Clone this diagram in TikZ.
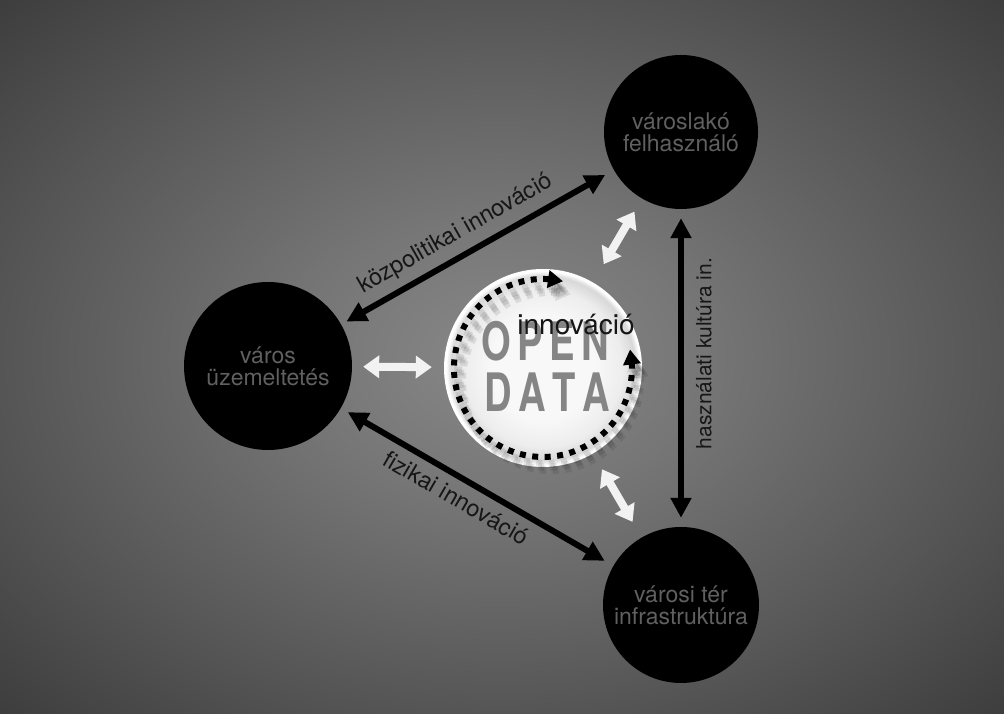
\documentclass[tikz,border=0pt]{standalone}
\usepackage{fontspec}
\setmainfont{TeX Gyre Heros}
\usetikzlibrary{arrows.meta,bending}
\definecolor{bgA}{HTML}{888888}
\definecolor{bgB}{HTML}{767676}
\definecolor{bgC}{HTML}{555555}
\definecolor{bgD}{HTML}{3C3C3C}
\definecolor{circtext}{HTML}{606060}
\definecolor{labeltext}{HTML}{161616}
\definecolor{odgray}{HTML}{858585}
\definecolor{whitearrow}{HTML}{F2F2F2}
\definecolor{odin}{HTML}{F8F8F8}
\definecolor{odmid}{HTML}{EDEDED}
\definecolor{odout}{HTML}{D8D8D8}
\pgfdeclareradialshading{vignette}{\pgfpoint{0bp}{0bp}}{color(0bp)=(bgA); color(10bp)=(bgB); color(25bp)=(bgC); color(36bp)=(bgD); color(50bp)=(bgD)}
\pgfdeclareradialshading{odshade}{\pgfpoint{0bp}{0bp}}{color(0bp)=(odin); color(13bp)=(odin); color(20bp)=(odmid); color(23.3bp)=(odout); color(24.5bp)=(white); color(50bp)=(white)}
\begin{document}
\begin{tikzpicture}[x=1pt,y=1pt,
  bignode/.style={circle, fill=black, text=circtext, align=center, font=\fontsize{23}{22}\selectfont, inner sep=0pt},
  blackarrow/.style={line width=6pt, draw=black, {Triangle[length=20pt,width=20pt]}-{Triangle[length=20pt,width=20pt]}},
  whitearr/.style={line width=8pt, draw=whitearrow, {Triangle[length=16pt,width=22pt]}-{Triangle[length=16pt,width=22pt]}},
  lab/.style={text=labeltext, font=\fontsize{23.5}{23.5}\selectfont, sloped, inner sep=0pt},
  ring/.style={line width=6pt, dash pattern=on 6pt off 6.5pt, {Triangle[length=15pt,width=17pt]}-{Triangle[length=15pt,width=17pt]}},
  ringshadow/.style={ring, draw=black, fill=none, opacity=0.09, line width=8pt},
  bigtext/.style={text=odgray, font=\fontsize{53}{53}\selectfont\bfseries, inner sep=0pt}
]
\useasboundingbox (0,0) rectangle (1004,714);
\shade[shading=vignette] (0,0) rectangle (1004,714);

% main nodes
\node[bignode, minimum size=168pt] (L) at (268,348) {város\\üzemeltetés};
\node[bignode, minimum size=154pt] (T) at (681,582) {városlakó\\felhasználó};
\node[bignode, minimum size=156pt] (B) at (681,109) {városi tér\\infrastruktúra};
\node[circle, minimum size=198pt, shade, shading=odshade, inner sep=0pt] (OD) at (543,346) {};

% black connectors
\draw[blackarrow, shorten <=6pt, shorten >=10pt] (L) -- node[lab, above=8pt, pos=0.46]{közpolitikai innováció} (T);
\draw[blackarrow, shorten <=8pt, shorten >=10pt] (L) -- node[lab, below=8pt, pos=0.46]{fizikai innováció} (B);
\draw[blackarrow, shorten <=9pt, shorten >=9pt] (B) -- node[lab, below=12pt, pos=0.545, font=\fontsize{21}{21}\selectfont]{használati kultúra in.} (T);

% white connectors
\draw[whitearr, shorten <=11pt, shorten >=12pt] (L) -- (OD);
\draw[whitearr, shorten <=21pt, shorten >=15pt] (OD) -- (T);
\draw[whitearr, shorten <=18pt, shorten >=18pt] (OD) -- (B);

% OPEN DATA text
\node[bigtext] (open) at (545,373) {\scalebox{0.72}[1]{O\kern9pt P\kern9pt E\kern9pt N}};
\node[bigtext] (data) at (547,321.5) {\scalebox{0.72}[1]{D\kern9pt A\kern9pt T\kern9pt A}};

% ring shadows
\draw[ringshadow] ([xshift=4pt,yshift=-7pt,shift={(77:89)}]OD.center) arc[start angle=77, end angle=372, radius=89];
\draw[ringshadow] ([xshift=6pt,yshift=-10pt,shift={(77:89)}]OD.center) arc[start angle=77, end angle=372, radius=89];
\draw[ringshadow] ([xshift=8pt,yshift=-13pt,shift={(77:89)}]OD.center) arc[start angle=77, end angle=372, radius=89];
% ring
\draw[ring] ([shift={(77:89)}]OD.center) arc[start angle=77, end angle=372, radius=89];

\node[text=labeltext, font=\fontsize{28}{28}\selectfont, anchor=base, inner sep=0pt] (inno) at (576,379) {innováció};
\end{tikzpicture}
\end{document}
